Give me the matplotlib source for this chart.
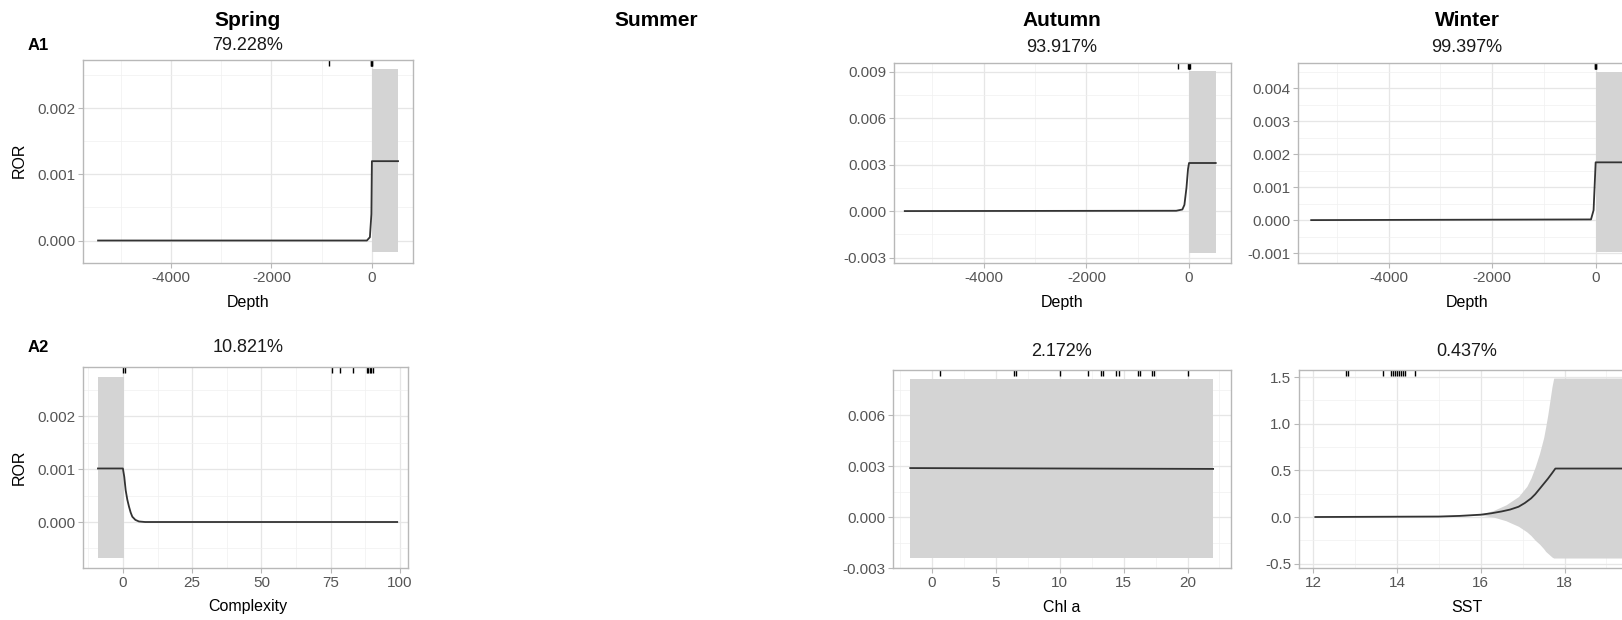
import numpy as np
import matplotlib
matplotlib.use("Agg")
import matplotlib.pyplot as plt
from matplotlib.ticker import FormatStrFormatter, AutoMinorLocator

plt.rcParams['font.family'] = ['Liberation Sans', 'DejaVu Sans']
plt.rcParams['axes.unicode_minus'] = False

W, H = 1622, 620

# ---- data ----
# Spring / Depth
sp_depth_x = [-5450, -100, -40, -10, 0, 520]
sp_depth_y = [0.0, 0.0, 0.00005, 0.0004, 0.0012, 0.0012]
sp_depth_band_x = [0, 520]
sp_depth_lo = [-0.00017, -0.00017]
sp_depth_hi = [0.00259, 0.00259]
sp_depth_rug = [-860, -20, -8, 0, 8]

# Spring / Complexity
sp_cx_x = [-9, 0, 0.5, 1.0, 1.6, 2.2, 2.8, 3.4, 4.5, 5.8, 8, 99]
sp_cx_y = [0.00101, 0.00101, 0.00085, 0.0006, 0.00042, 0.00029, 0.00018, 0.0001, 0.00004, 0.00001, 0.0, 0.0]
sp_cx_band_x = [-9, 0.3]
sp_cx_lo = [-0.00068, -0.00068]
sp_cx_hi = [0.00274, 0.00274]
sp_cx_rug = [0.0, 0.6, 75.4, 78.3, 83.0, 88.0, 88.6, 89.1, 89.6, 90.2]

# Autumn / Depth
au_depth_x = [-5540, -250, -130, -90, -50, -20, 0, 520]
au_depth_y = [0.0, 0.00002, 0.0001, 0.0004, 0.0015, 0.0027, 0.0031, 0.0031]
au_depth_band_x = [0, 520]
au_depth_lo = [-0.00271, -0.00271]
au_depth_hi = [0.00903, 0.00903]
au_depth_rug = [-220, -15, -5, 0, 5, 12]

# Autumn / Chl a
au_chl_x = [-1.7, 22]
au_chl_y = [0.00288, 0.00283]
au_chl_band_x = [-1.7, 22]
au_chl_lo = [-0.0024, -0.0024]
au_chl_hi = [0.00812, 0.00812]
au_chl_rug = [0.6, 6.4, 6.6, 10.0, 12.2, 13.2, 13.4, 14.4, 14.6, 16.1, 16.3, 17.2, 17.4, 20.0]

# Winter / Depth
wi_depth_x = [-5495, -90, -40, 0, 520]
wi_depth_y = [0.0, 0.00002, 0.0003, 0.00175, 0.00175]
wi_depth_band_x = [0, 520]
wi_depth_lo = [-0.00097, -0.00097]
wi_depth_hi = [0.00448, 0.00448]
wi_depth_rug = [-15, -5, 0, 5]

# Winter / SST
wi_sst_x = [12.05, 15.0, 15.5, 16.0, 16.25, 16.5, 16.7, 16.9, 17.05, 17.2, 17.3, 17.4,
            17.5, 17.6, 17.7, 17.78, 19.45]
wi_sst_y = [0.0, 0.005, 0.012, 0.025, 0.04, 0.06, 0.08, 0.11, 0.15, 0.2, 0.245, 0.3,
            0.355, 0.41, 0.47, 0.52, 0.52]
wi_sst_band_x = [12.05, 15.5, 16.0, 16.3, 16.6, 16.9, 17.1, 17.2, 17.3, 17.4, 17.5,
                 17.55, 17.6, 17.65, 17.7, 17.74, 19.45]
wi_sst_lo = [0.0, 0.01, 0.02, 0.0, -0.04, -0.10, -0.16, -0.2, -0.25, -0.29, -0.34,
             -0.37, -0.39, -0.41, -0.43, -0.44, -0.44]
wi_sst_hi = [0.0, 0.012, 0.03, 0.07, 0.13, 0.22, 0.33, 0.42, 0.54, 0.68, 0.85,
             0.97, 1.1, 1.25, 1.4, 1.49, 1.49]
wi_sst_rug = [12.78, 12.84, 13.66, 13.85, 13.9, 13.95, 14.0, 14.05, 14.1, 14.15, 14.2, 14.43]

fig = plt.figure(figsize=(W / 100, H / 100), dpi=100)


def panel(l, t, r, b, xlim, ylim, xticks, yticks, xfmt, yfmt):
    ax = fig.add_axes([l / W, 1 - b / H, (r - l) / W, (b - t) / H])
    ax.set_xlim(xlim)
    ax.set_ylim(ylim)
    ax.set_xticks(xticks)
    ax.set_yticks(yticks)
    ax.xaxis.set_major_formatter(FormatStrFormatter(xfmt))
    ax.yaxis.set_major_formatter(FormatStrFormatter(yfmt))
    ax.xaxis.set_minor_locator(AutoMinorLocator(2))
    ax.yaxis.set_minor_locator(AutoMinorLocator(2))
    ax.grid(which='major', color='#E6E6E6', lw=0.9)
    ax.grid(which='minor', color='#F0F0F0', lw=0.5)
    ax.set_axisbelow(True)
    for s in ax.spines.values():
        s.set_color('#B8B8B8')
        s.set_linewidth(1.0)
    ax.tick_params(which='major', direction='out', length=3.5, width=0.8,
                   color='#B8B8B8', labelcolor='#555555', labelsize=11, pad=2)
    ax.tick_params(which='minor', length=0)
    return ax


def draw(ax, x, y, bx, lo, hi, rug):
    ax.fill_between(bx, lo, hi, color='#D4D4D4', lw=0)
    ax.plot(x, y, color='#333333', lw=1.3)
    ax.vlines(rug, 0.97, 1.0, transform=ax.get_xaxis_transform(),
              color='black', lw=1.0, clip_on=False)


# Spring
ax = panel(83, 60, 413, 263, (-5750, 818), (-0.00034, 0.00273),
           [-4000, -2000, 0], [0, 0.001, 0.002], '%d', '%.3f')
draw(ax, sp_depth_x, sp_depth_y, sp_depth_band_x, sp_depth_lo, sp_depth_hi, sp_depth_rug)

ax = panel(83, 367, 408, 568, (-14.4, 102.9), (-0.000868, 0.002925),
           [0, 25, 50, 75, 100], [0, 0.001, 0.002], '%d', '%.3f')
draw(ax, sp_cx_x, sp_cx_y, sp_cx_band_x, sp_cx_lo, sp_cx_hi, sp_cx_rug)

# Autumn
ax = panel(894, 63, 1231, 263, (-5750, 818), (-0.00335, 0.00955),
           [-4000, -2000, 0], [-0.003, 0, 0.003, 0.006, 0.009], '%d', '%.3f')
draw(ax, au_depth_x, au_depth_y, au_depth_band_x, au_depth_lo, au_depth_hi, au_depth_rug)

ax = panel(893, 370, 1231, 568, (-3.05, 23.4), (-0.0030, 0.00865),
           [0, 5, 10, 15, 20], [-0.003, 0, 0.003, 0.006], '%d', '%.3f')
draw(ax, au_chl_x, au_chl_y, au_chl_band_x, au_chl_lo, au_chl_hi, au_chl_rug)

# Winter (runs off the right edge, as in the original)
ax = panel(1298, 63, 1638, 263, (-5750, 818), (-0.0013, 0.00476),
           [-4000, -2000, 0], [-0.001, 0, 0.001, 0.002, 0.003, 0.004], '%d', '%.3f')
draw(ax, wi_depth_x, wi_depth_y, wi_depth_band_x, wi_depth_lo, wi_depth_hi, wi_depth_rug)

ax = panel(1299, 370, 1640, 568, (11.66, 19.8), (-0.547, 1.577),
           [12, 14, 16, 18], [-0.5, 0, 0.5, 1.0, 1.5], '%d', '%.1f')
draw(ax, wi_sst_x, wi_sst_y, wi_sst_band_x, wi_sst_lo, wi_sst_hi, wi_sst_rug)


def ftext(x, y, s, **kw):
    fig.text(x / W, 1 - y / H, s, ha='center', va='center', **kw)


# column titles
for x, s in [(248, 'Spring'), (656, 'Summer'), (1062, 'Autumn'), (1467, 'Winter')]:
    ftext(x, 20, s, fontsize=15, fontweight='bold', color='black')

# percentages
for x, y, s in [(248, 45, '79.228%'), (1062, 48, '93.917%'), (1467, 48, '99.397%'),
                (248, 348, '10.821%'), (1062, 352, '2.172%'), (1467, 352, '0.437%')]:
    ftext(x, y, s, fontsize=13, color='#1A1A1A')

ftext(38, 45, 'A1', fontsize=12, fontweight='bold')
ftext(38, 348, 'A2', fontsize=12, fontweight='bold')

# axis titles
for x, y, s in [(248, 302, 'Depth'), (1062, 302, 'Depth'), (1467, 302, 'Depth'),
                (248, 607, 'Complexity'), (1062, 607, 'Chl a'), (1467, 607, 'SST')]:
    ftext(x, y, s, fontsize=11.5, color='black')
ftext(19, 160, 'ROR', fontsize=11.5, rotation=90)
ftext(19, 467, 'ROR', fontsize=11.5, rotation=90)

fig.savefig('out.png', dpi=100)
